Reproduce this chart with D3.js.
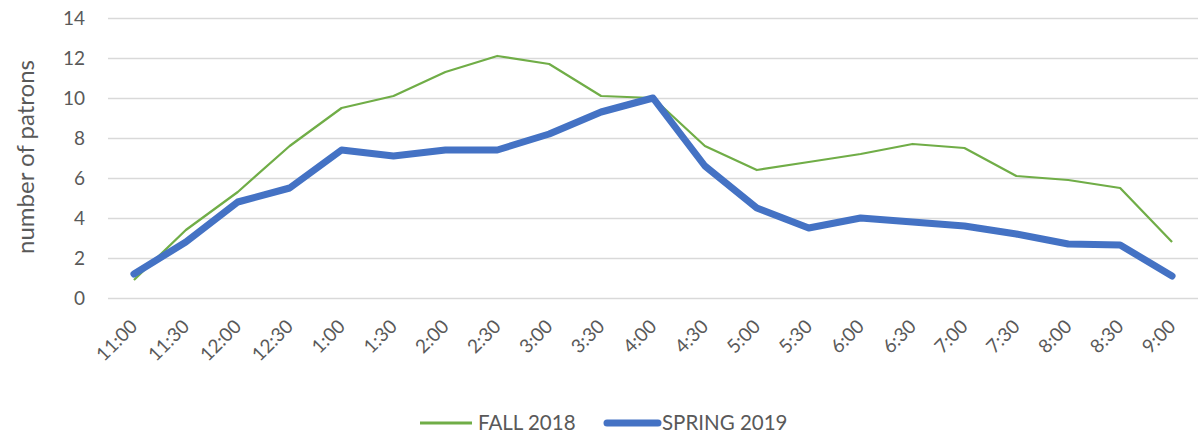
<!DOCTYPE html>
<html>
<head>
<meta charset="utf-8">
<script src="https://cdnjs.cloudflare.com/ajax/libs/d3/7.8.5/d3.min.js"></script>
<style>
  body { margin: 0; background: #fff; }
  svg text { font-family: Lato, "Open Sans", sans-serif; fill: #595959; }
  .grid line { stroke: #d9d9d9; stroke-width: 1.5; }
  .grid path { display: none; }
</style>
</head>
<body>
<div id="chart"></div>
<script>
// 时间段
var times = ['11:00','11:30','12:00','12:30','1:00','1:30','2:00','2:30','3:00','3:30','4:00',
             '4:30','5:00','5:30','6:00','6:30','7:00','7:30','8:00','8:30','9:00'];
var fall2018 = [0.9,3.4,5.3,7.6,9.5,10.1,11.3,12.1,11.7,10.1,10.0,7.6,6.4,6.8,7.2,7.7,7.5,6.1,5.9,5.5,2.8];
var spring2019 = [1.2,2.8,4.8,5.5,7.4,7.1,7.4,7.4,8.2,9.3,10.0,6.6,4.5,3.5,4.0,3.8,3.6,3.2,2.7,2.65,1.1];
var yTicks = [0,2,4,6,8,10,12,14];
var seriesNames = ['FALL 2018','SPRING 2019'];

var width = 1199, height = 436,
    plotLeft = 108, plotRight = 1198, plotTop = 18, plotBottom = 298;

var svg = d3.select('#chart').append('svg')
    .attr('width', width)
    .attr('height', height);

var x = d3.scaleBand().domain(times).range([plotLeft, plotRight]);
var y = d3.scaleLinear().domain([0, 14]).range([plotBottom, plotTop]);

// 网格线
svg.append('g')
    .attr('class', 'grid')
    .attr('transform', 'translate(' + plotLeft + ',0)')
    .call(d3.axisLeft(y).tickValues(yTicks).tickSize(-(plotRight - plotLeft)).tickFormat(''));

// y轴文字
svg.append('g').selectAll('text')
    .data(yTicks)
    .enter().append('text')
    .attr('x', 85)
    .attr('y', function (d) { return y(d); })
    .attr('dy', '0.35em')
    .attr('text-anchor', 'end')
    .style('font-size', '19px')
    .text(function (d) { return d; });

// x轴文字
svg.append('g').selectAll('text')
    .data(times)
    .enter().append('text')
    .attr('transform', function (d) {
        return 'translate(' + (x(d) + x.bandwidth() / 2) + ',323) rotate(-45)';
    })
    .attr('text-anchor', 'end')
    .attr('dy', '0.35em')
    .style('font-size', '19px')
    .text(function (d) { return d; });

// y轴标题
svg.append('text')
    .attr('transform', 'translate(34,157) rotate(-90)')
    .attr('text-anchor', 'middle')
    .style('font-size', '24px')
    .text('number of patrons');

var line = d3.line()
    .x(function (d, i) { return x(times[i]) + x.bandwidth() / 2; })
    .y(function (d) { return y(d); });

svg.append('path')
    .attr('d', line(fall2018))
    .attr('fill', 'none')
    .attr('stroke', '#70ad47')
    .attr('stroke-width', 2.25)
    .attr('stroke-linejoin', 'round');

svg.append('path')
    .attr('d', line(spring2019))
    .attr('fill', 'none')
    .attr('stroke', '#4472c4')
    .attr('stroke-width', 7)
    .attr('stroke-linejoin', 'round')
    .attr('stroke-linecap', 'round');

// 图例
var legend = [
    {name: seriesNames[0], x1: 420, x2: 472, tx: 478, color: '#70ad47', w: 3, cap: 'butt'},
    {name: seriesNames[1], x1: 607, x2: 658, tx: 662, color: '#4472c4', w: 7, cap: 'round'}
];
var lg = svg.append('g').selectAll('g')
    .data(legend)
    .enter().append('g');
lg.append('line')
    .attr('x1', function (d) { return d.x1; })
    .attr('x2', function (d) { return d.x2; })
    .attr('y1', 423).attr('y2', 423)
    .attr('stroke', function (d) { return d.color; })
    .attr('stroke-width', function (d) { return d.w; })
    .attr('stroke-linecap', function (d) { return d.cap; });
lg.append('text')
    .attr('x', function (d) { return d.tx; })
    .attr('y', 423)
    .attr('dy', '0.35em')
    .style('font-size', '20.5px')
    .text(function (d) { return d.name; });
</script>
</body>
</html>
